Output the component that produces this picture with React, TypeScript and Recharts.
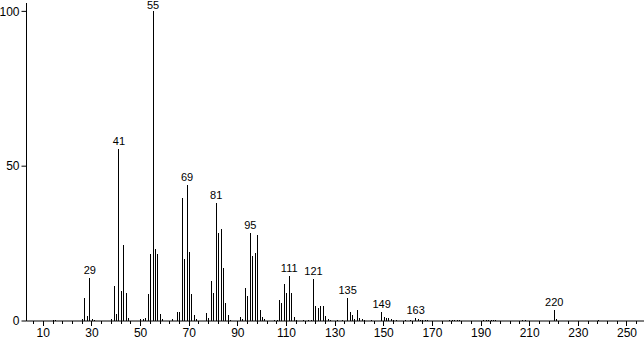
import React from 'react';
import { BarChart, Bar, XAxis, YAxis, LabelList } from 'recharts';

// m/z values of the peaks
const masses = [
  14, 15, 26, 27, 28, 29, 30, 31, 38, 39, 40, 41, 42, 43, 44, 45,
  50, 51, 52, 53, 54, 55, 56, 57, 58, 59, 63, 65, 66, 67, 68, 69, 70, 71, 72, 73,
  77, 78, 79, 80, 81, 82, 83, 84, 85, 86, 87, 91, 92, 93, 94, 95, 96, 97, 98, 99, 100, 101,
  105, 106, 107, 108, 109, 110, 111, 112, 113, 114, 117, 119, 120, 121, 122, 123, 124, 125, 126, 127, 128,
  131, 133, 135, 136, 137, 138, 139, 140, 141, 142, 145, 149, 150, 151, 152, 153, 154, 155,
  159, 161, 163, 164, 165, 166, 167, 168, 177, 178, 179, 180, 181,
  191, 192, 193, 194, 195, 196, 207, 208, 220, 221, 238,
];

// relative intensity (%) for each mass above
const intensities = [
  0.3, 0.4, 0.8, 7.5, 1.5, 14.0, 0.5, 0.4, 0.8, 11.4, 2.2, 55.6, 9.6, 24.5, 9.1, 1.0,
  0.7, 0.8, 1.0, 8.7, 21.6, 100, 23.2, 21.6, 2.4, 0.8, 0.5, 2.8, 2.8, 39.8, 20.0, 43.9, 22.4, 8.7, 1.9, 0.5,
  2.5, 1.1, 12.9, 9.1, 38.1, 28.4, 29.7, 17.2, 5.8, 1.8, 0.4, 1.4, 0.5, 10.7, 8.0, 28.4, 21.0, 22.0, 27.7, 3.5, 1.2, 0.5,
  0.4, 0.4, 6.7, 5.8, 11.9, 9.1, 14.5, 9.1, 1.4, 0.4, 0.3, 0.4, 0.4, 13.5, 4.9, 4.2, 4.9, 4.9, 1.6, 0.5, 0.3,
  0.3, 0.4, 7.4, 2.8, 2.0, 0.5, 3.5, 1.1, 0.5, 0.3, 0.3, 2.8, 1.3, 1.1, 1.1, 0.6, 0.4, 0.3,
  0.3, 0.3, 1.1, 0.5, 0.4, 0.4, 0.4, 0.3, 0.3, 0.3, 0.4, 0.3, 0.3,
  0.3, 0.4, 0.3, 0.4, 0.3, 0.3, 0.3, 0.4, 3.5, 0.7, 0.4,
];

// peaks that carry their m/z above the stick
const labeledMasses = [29, 41, 55, 69, 81, 95, 111, 121, 135, 149, 163, 220];

const xTicks: number[] = [];
for (let v = 6; v <= 254; v += 4) xTicks.push(v);
const yTicks = [0, 50, 100];

const rows = masses.map((m, i) => ({
  mz: m,
  abundance: intensities[i],
  tag: labeledMasses.includes(m) ? String(m) : '',
}));

const FONT = '"Liberation Sans", Arial, sans-serif';

const Stick = (props: any) => {
  const { x, y, width, height } = props;
  if (!height || height <= 0) return null;
  const px = Math.floor(x + width / 2);
  return <rect x={px} y={y} width={1} height={height} fill="#000" shapeRendering="crispEdges" />;
};

const PeakTag = (props: any) => {
  const { x, y, width, value } = props;
  if (!value) return null;
  // keep the tallest peak's tag inside the picture
  const base = Math.max(y - 4, 9);
  return (
    <text x={x + width / 2} y={base} textAnchor="middle" fontSize={11} fontFamily={FONT} fill="#000">
      {value}
    </text>
  );
};

const XTick = (props: any) => {
  const { x, y, payload } = props;
  const v = payload.value;
  const major = (v - 10) % 20 === 0;
  const px = Math.floor(x) + 0.5;
  return (
    <g>
      <line x1={px} x2={px} y1={y} y2={y + (major ? 5 : 3)} stroke="#000" />
      {major && (
        <text x={x} y={y + 15.5} textAnchor="middle" fontSize={12} fontFamily={FONT} fill="#000">
          {v}
        </text>
      )}
    </g>
  );
};

export default function App() {
  return (
    <div style={{ position: 'absolute', left: 0, top: 0, width: 644, height: 339, background: '#fff' }}>
      <BarChart width={644} height={339} data={rows} margin={{ top: 3, right: 0, bottom: 0, left: 0 }}>
        <XAxis
          dataKey="mz"
          type="number"
          domain={[3.1, 257]}
          allowDataOverflow
          ticks={xTicks}
          interval={0}
          height={18}
          tickSize={0}
          tickMargin={0}
          tickLine={false}
          axisLine={{ stroke: '#000' }}
          tick={<XTick />}
        />
        <YAxis
          type="number"
          domain={[0, 102.7]}
          allowDataOverflow
          ticks={yTicks}
          width={26.5}
          tickSize={5}
          tickMargin={2}
          axisLine={{ stroke: '#000' }}
          tickLine={{ stroke: '#000' }}
          tick={{ fill: '#000', fontSize: 12, fontFamily: FONT }}
        />
        <Bar dataKey="abundance" barSize={1} shape={<Stick />} isAnimationActive={false}>
          <LabelList dataKey="tag" content={<PeakTag />} />
        </Bar>
      </BarChart>
    </div>
  );
}
